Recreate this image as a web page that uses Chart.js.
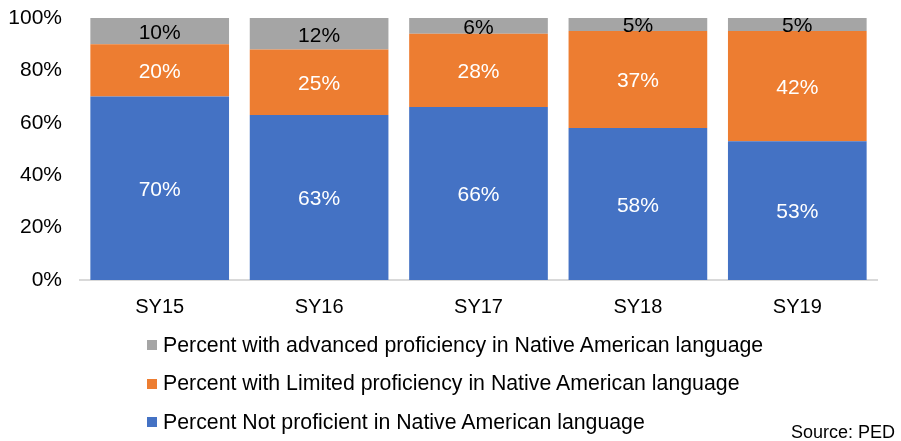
<!DOCTYPE html>
<html>
<head>
<meta charset="utf-8">
<script src="https://cdn.jsdelivr.net/npm/chart.js@4.4.1/dist/chart.umd.min.js"></script>
<style>
  html, body { margin: 0; padding: 0; background: #fff; }
  #wrap { position: relative; width: 901px; height: 441px; font-family: "Liberation Sans", Arial, sans-serif; }
  #chart { position: absolute; left: 0; top: 0; }
  .legend { position: absolute; left: 147px; top: 326px; }
  .legend-row { height: 38.5px; display: flex; align-items: center; font-size: 21.3px; color: #000; }
  .legend-row span.box { display: inline-block; width: 10px; height: 10px; margin-right: 6px; }
  .source { position: absolute; right: 6px; top: 422px; font-size: 18px; color: #000; }
</style>
</head>
<body>
<div id="wrap">
  <canvas id="chart" width="901" height="441"></canvas>
  <div class="legend" id="legend"></div>
  <div class="source">Source: PED</div>
</div>
<script>
// categories and values (percent)
const years = ['SY15', 'SY16', 'SY17', 'SY18', 'SY19'];
const notProficient = [70, 63, 66, 58, 53];
const limited = [20, 25, 28, 37, 42];
const advanced = [10, 12, 6, 5, 5];
const yTicks = [0, 20, 40, 60, 80, 100];

const seriesNames = [
  'Percent Not proficient in Native American language',
  'Percent with Limited proficiency in Native American language',
  'Percent with advanced proficiency in Native American language'
];
const colors = ['#4472C4', '#ED7D31', '#A5A5A5'];
const labelColors = ['#ffffff', '#ffffff', '#000000'];

// draws the value in the middle of each bar segment
const centerLabels = {
  id: 'centerLabels',
  afterDatasetsDraw(chart) {
    const ctx = chart.ctx;
    ctx.save();
    ctx.font = '21px "Liberation Sans", Arial, sans-serif';
    ctx.textAlign = 'center';
    ctx.textBaseline = 'middle';
    chart.data.datasets.forEach((ds, i) => {
      chart.getDatasetMeta(i).data.forEach((bar, j) => {
        const mid = (bar.y + bar.base) / 2 + 2;
        ctx.fillStyle = labelColors[i];
        ctx.fillText(ds.data[j] + '%', bar.x, mid);
      });
    });
    ctx.restore();
  }
};

new Chart(document.getElementById('chart'), {
  type: 'bar',
  data: {
    labels: years,
    datasets: [
      { label: seriesNames[0], data: notProficient, backgroundColor: colors[0] },
      { label: seriesNames[1], data: limited, backgroundColor: colors[1] },
      { label: seriesNames[2], data: advanced, backgroundColor: colors[2] }
    ]
  },
  options: {
    responsive: false,
    animation: false,
    layout: { padding: { top: 18, right: 24, left: 0, bottom: 0 } },
    datasets: { bar: { barPercentage: 0.87, categoryPercentage: 1 } },
    scales: {
      x: {
        stacked: true,
        grid: { display: false },
        border: { display: true, color: '#D9D9D9', width: 2 },
        ticks: { color: '#000', font: { size: 20, family: '"Liberation Sans", Arial' }, padding: 7 },
        afterFit(scale) { scale.height = 161; }
      },
      y: {
        stacked: true,
        min: 0,
        max: 100,
        grid: { display: false, drawTicks: false },
        border: { display: false },
        afterBuildTicks(scale) { scale.ticks = yTicks.map(v => ({ value: v })); },
        ticks: {
          color: '#000',
          font: { size: 21, family: '"Liberation Sans", Arial' },
          padding: 18,
          callback: v => v + '%'
        },
        afterFit(scale) {
          scale.width = 80;
          scale.paddingTop = 0;
          scale.paddingBottom = 0;
        }
      }
    },
    plugins: {
      legend: { display: false },
      tooltip: { enabled: false }
    }
  },
  plugins: [centerLabels]
});

// legend in reverse order, one per row
const legend = document.getElementById('legend');
[2, 1, 0].forEach(i => {
  const row = document.createElement('div');
  row.className = 'legend-row';
  row.innerHTML = '<span class="box" style="background:' + colors[i] + '"></span>' + seriesNames[i];
  legend.appendChild(row);
});
</script>
</body>
</html>
